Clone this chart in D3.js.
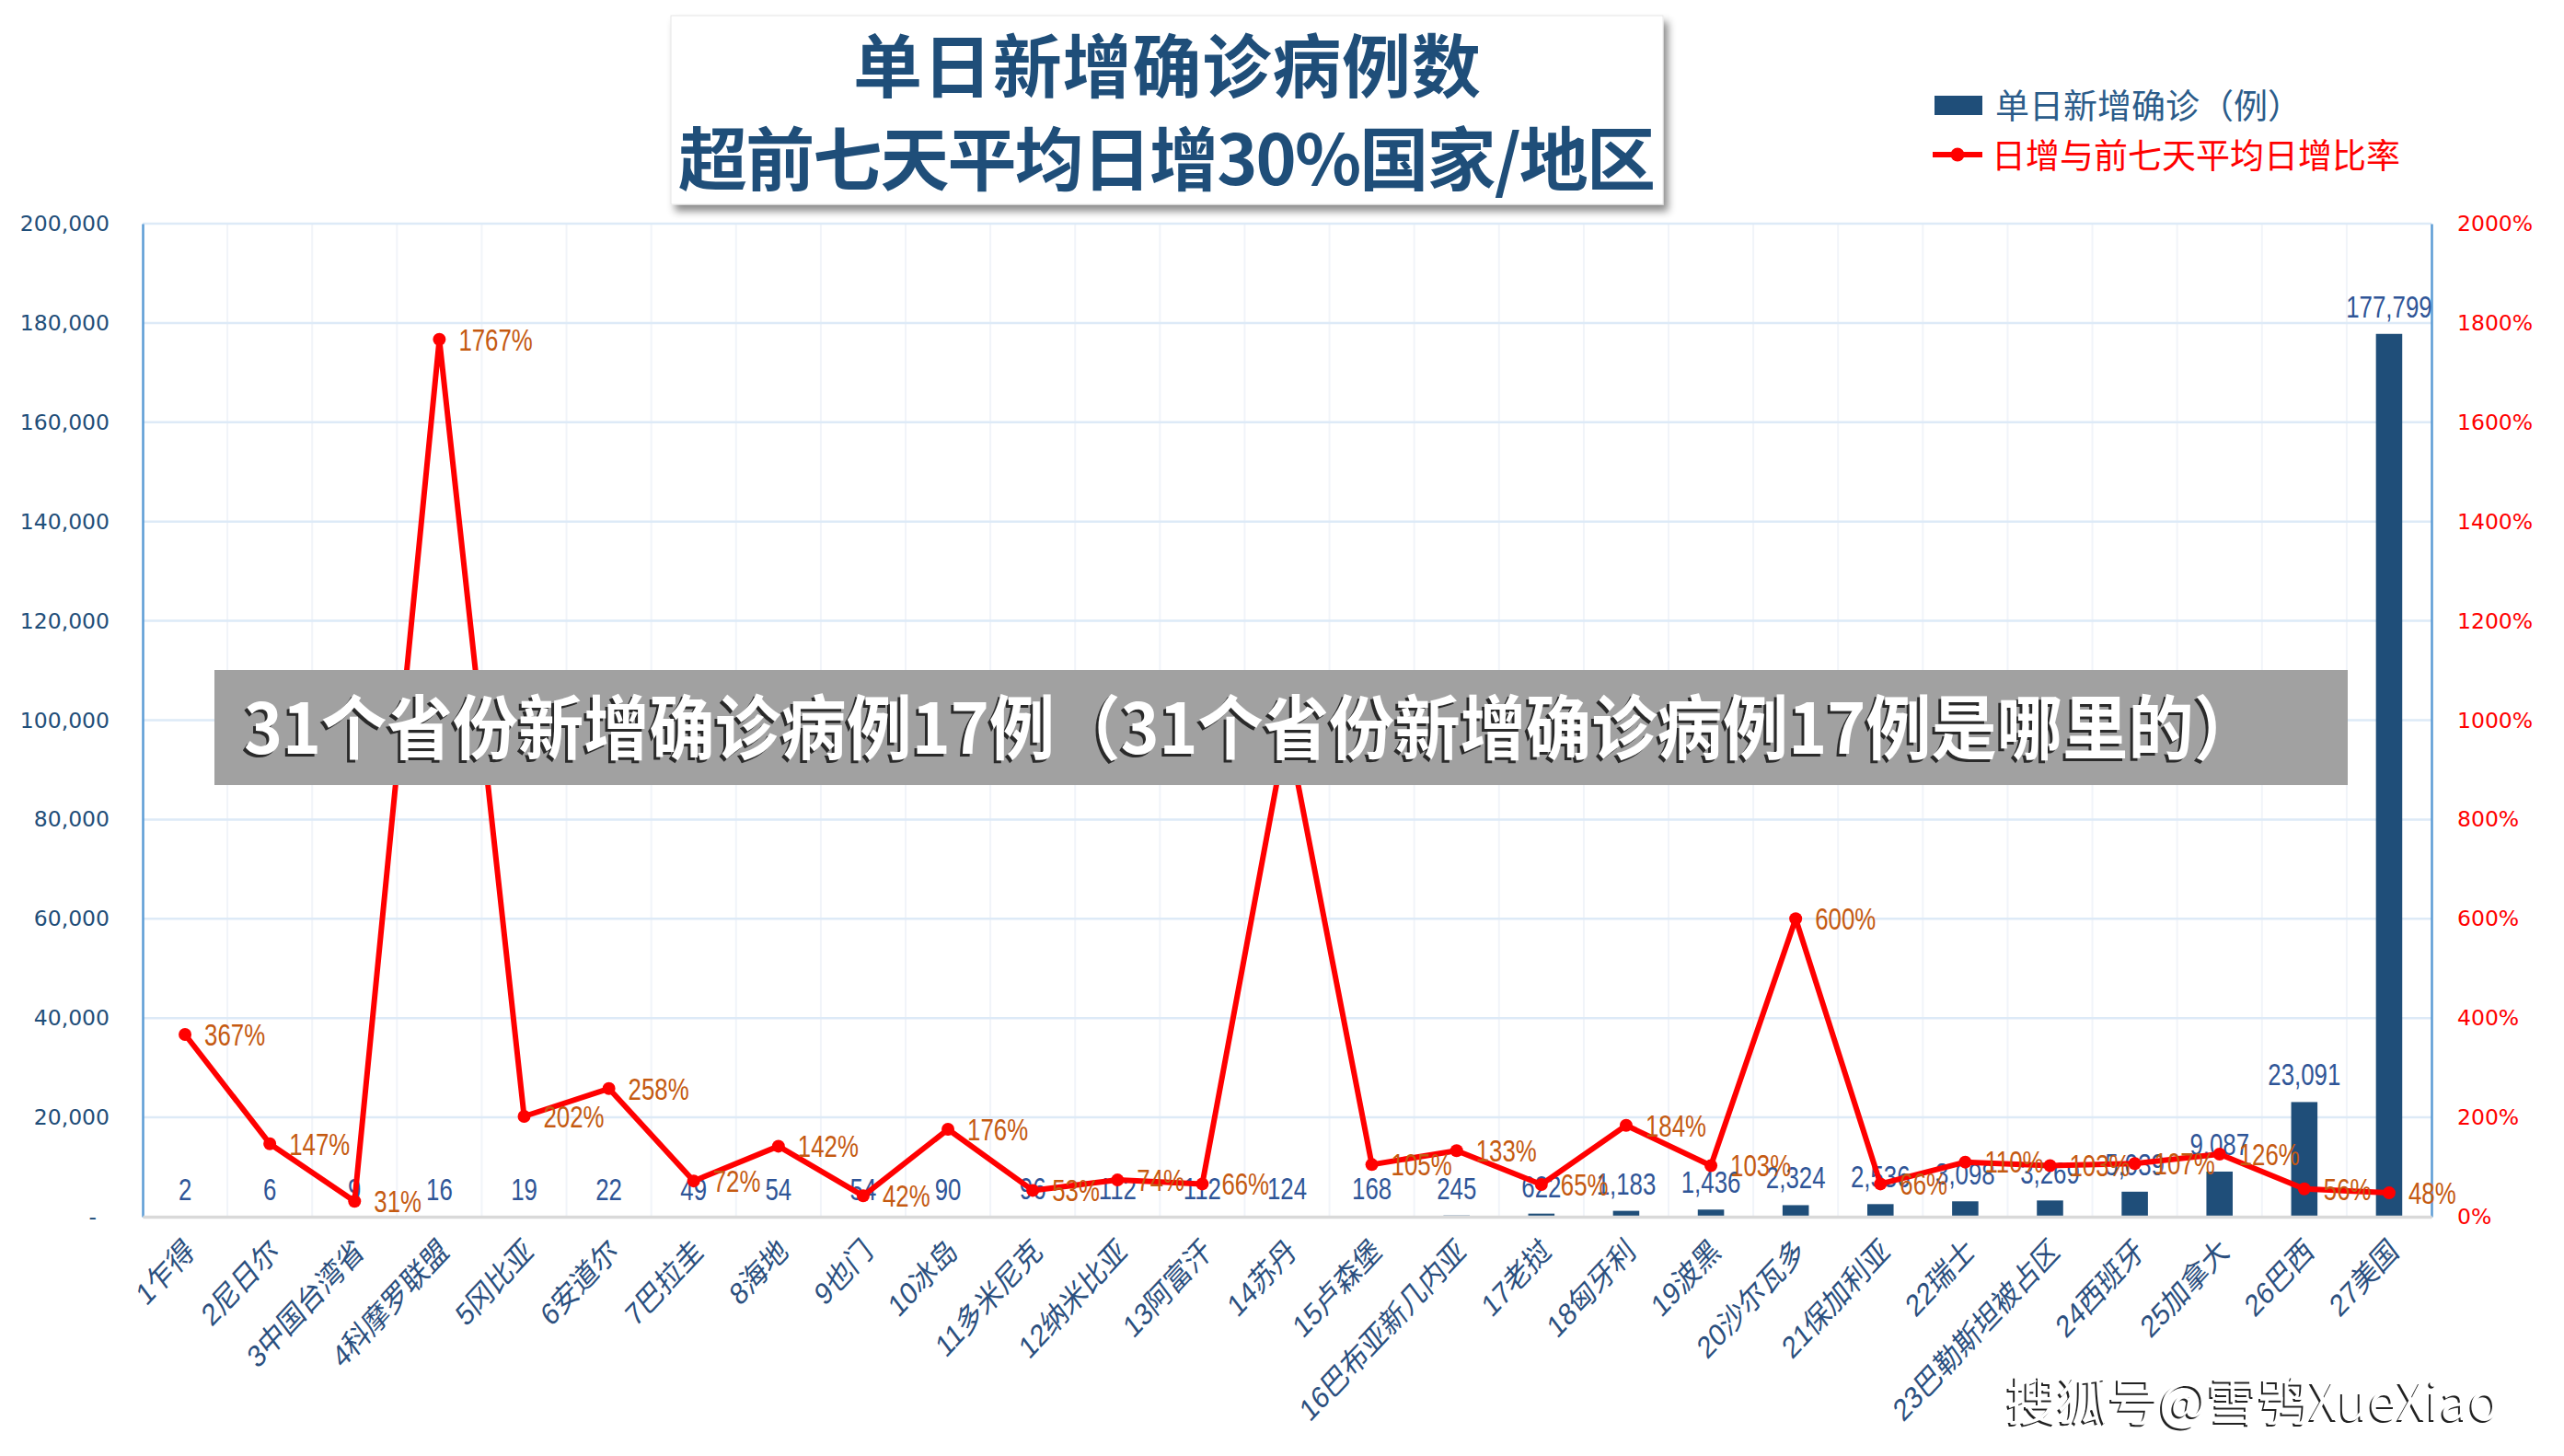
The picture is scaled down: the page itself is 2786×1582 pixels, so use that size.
<!DOCTYPE html>
<html><head><meta charset="utf-8">
<script src="https://cdn.jsdelivr.net/npm/d3@7"></script>
<style>body{margin:0;background:#fff}svg{display:block}</style>
</head><body>
<svg id="c" width="2786" height="1582"></svg>
<script>
// ---- data ----
const categories = ["1乍得","2尼日尔","3中国台湾省","4科摩罗联盟","5冈比亚","6安道尔","7巴拉圭","8海地","9也门","10冰岛","11多米尼克","12纳米比亚","13阿富汗","14苏丹","15卢森堡","16巴布亚新几内亚","17老挝","18匈牙利","19波黑","20沙尔瓦多","21保加利亚","22瑞士","23巴勒斯坦被占区","24西班牙","25加拿大","26巴西","27美国"];
const cases = [2,6,9,16,19,22,49,54,54,90,96,112,112,124,168,245,622,1183,1436,2324,2536,3098,3269,5039,9087,23091,177799];
const ratios = [367,147,31,1767,202,258,72,142,42,176,53,74,66,985,105,133,65,184,103,600,66,110,103,107,126,56,48];
const leftTicks = [0,20000,40000,60000,80000,100000,120000,140000,160000,180000,200000];
const rightTicks = [0,200,400,600,800,1000,1200,1400,1600,1800,2000];
const titleLines = ["单日新增确诊病例数","超前七天平均日增30%国家/地区"];
const legendBar = "单日新增确诊（例）";
const legendLine = "日增与前七天平均日增比率";
const bannerText = "31个省份新增确诊病例17例（31个省份新增确诊病例17例是哪里的）";
const watermark = "搜狐号@雪鸮XueXiao";

// ---- layout ----
const L = 155, R = 2642, T = 243, B = 1322;
const svg = d3.select("#c");
const defs = svg.append("defs");
const f = defs.append("filter").attr("id","sh").attr("x","-5%").attr("y","-10%").attr("width","115%").attr("height","130%");
f.append("feDropShadow").attr("dx",5).attr("dy",7).attr("stdDeviation",4).attr("flood-color","#000").attr("flood-opacity",0.45);

const x = d3.scaleBand().domain(categories).range([L, R]).paddingInner(0.69).paddingOuter(0.345);
const step = x.step();
const cx = d => x(d) + x.bandwidth()/2;
const yL = d3.scaleLinear().domain([0,200000]).range([B,T]);
const yR = d3.scaleLinear().domain([0,2000]).range([B,T]);

// gridlines
const grid = svg.append("g");
grid.selectAll("line.v").data(d3.range(1, categories.length)).join("line")
  .attr("x1", i => L + i*step).attr("x2", i => L + i*step)
  .attr("y1", T).attr("y2", B).attr("stroke", "#F1F4F9").attr("stroke-width", 2);
grid.selectAll("line.h").data(leftTicks.filter(d => d > 0)).join("line")
  .attr("x1", L).attr("x2", R).attr("y1", d => yL(d)).attr("y2", d => yL(d))
  .attr("stroke", "#DDEAF7").attr("stroke-width", 2.5);

// bars
const data = categories.map((c,i) => ({c, v: cases[i], r: ratios[i]}));
svg.append("g").selectAll("rect").data(data).join("rect")
  .attr("x", d => x(d.c)).attr("width", x.bandwidth())
  .attr("y", d => yL(d.v)).attr("height", d => B - yL(d.v))
  .attr("fill", "#1F4E79");

// axes
const axL = svg.append("g").attr("transform", `translate(${L},0)`)
  .call(d3.axisLeft(yL).tickValues(leftTicks).tickSize(0).tickSizeOuter(0).tickPadding(36)
    .tickFormat(d => d === 0 ? "-" : d3.format(",")(d)));
axL.select(".domain").attr("stroke", "#5B9BD5").attr("stroke-width", 2.5);
axL.selectAll("text").attr("font-family", "DejaVu Sans").attr("font-size", 23.5).attr("fill", "#1F4E79");
axL.selectAll(".tick").filter(d => d === 0).select("text").attr("dx", -14);

const axR = svg.append("g").attr("transform", `translate(${R},0)`)
  .call(d3.axisRight(yR).tickValues(rightTicks).tickSize(0).tickSizeOuter(0).tickPadding(28)
    .tickFormat(d => d + "%"));
axR.select(".domain").attr("stroke", "#5B9BD5").attr("stroke-width", 2.5);
axR.selectAll("text").attr("font-family", "DejaVu Sans").attr("font-size", 23.5).attr("fill", "#FF0000");

const axB = svg.append("g").attr("transform", `translate(0,${B})`)
  .call(d3.axisBottom(x).tickSize(0).tickSizeOuter(0));
axB.select(".domain").attr("stroke", "#D9D9D9").attr("stroke-width", 3.5);
axB.selectAll("text")
  .attr("x", 0).attr("y", 0).attr("dy", null)
  .attr("text-anchor", "end")
  .attr("transform", "translate(12,40) rotate(-47) skewX(-10)")
  .attr("font-family", "'Liberation Sans','Noto Sans CJK SC',sans-serif")
  .attr("font-size", 31).attr("fill", "#2B4F7E");

// count labels
svg.append("g").selectAll("text").data(data).join("text")
  .attr("transform", d => `translate(${cx(d.c)},${yL(d.v) - 18}) scale(0.76,1)`)
  .attr("text-anchor", "middle")
  .attr("font-family", "Liberation Sans").attr("font-size", 34).attr("fill", "#2F5597")
  .text(d => d3.format(",")(d.v));

// line
svg.append("path").datum(data)
  .attr("d", d3.line().x(d => cx(d.c)).y(d => yR(d.r)))
  .attr("fill", "none").attr("stroke", "#FF0000").attr("stroke-width", 6)
  .attr("stroke-linejoin", "round");
svg.append("g").selectAll("circle").data(data).join("circle")
  .attr("cx", d => cx(d.c)).attr("cy", d => yR(d.r)).attr("r", 7).attr("fill", "#FF0000");

// percent labels
svg.append("g").selectAll("text").data(data).join("text")
  .attr("transform", d => `translate(${cx(d.c) + 21},${yR(d.r)}) scale(0.76,1)`)
  .attr("dominant-baseline", "central")
  .attr("font-family", "Liberation Sans").attr("font-size", 34).attr("fill", "#C55A11")
  .text(d => d.r + "%");

// title box
svg.append("rect").attr("x", 729).attr("y", 17).attr("width", 1078).attr("height", 205)
  .attr("fill", "#fff").attr("stroke", "#E6E6E6").attr("filter", "url(#sh)");
svg.append("g").selectAll("text").data(titleLines).join("text")
  .attr("x", 1268).attr("y", (d,i) => i === 0 ? 67 : 168)
  .attr("text-anchor", "middle").attr("dominant-baseline", "central")
  .attr("font-family", "'Noto Sans CJK SC'").attr("font-weight", 700)
  .attr("font-size", 75).attr("fill", "#1F4E79")
  .attr("textLength", (d,i) => i === 0 ? 682 : 1062)
  .text(d => d);

// legend
svg.append("rect").attr("x", 2102).attr("y", 104).attr("width", 52).attr("height", 21).attr("fill", "#1F4E79");
svg.append("text").attr("x", 2168).attr("y", 113).attr("dominant-baseline", "central")
  .attr("font-family", "'Noto Sans CJK SC'").attr("font-size", 37).attr("fill", "#2B5C8A").text(legendBar);
svg.append("line").attr("x1", 2100).attr("x2", 2154).attr("y1", 168).attr("y2", 168)
  .attr("stroke", "#FF0000").attr("stroke-width", 6);
svg.append("circle").attr("cx", 2127).attr("cy", 168).attr("r", 7.5).attr("fill", "#FF0000");
svg.append("text").attr("x", 2164).attr("y", 167).attr("dominant-baseline", "central")
  .attr("font-family", "'Noto Sans CJK SC'").attr("font-size", 37).attr("fill", "#FF0000").text(legendLine);

// banner
svg.append("rect").attr("x", 233).attr("y", 728).attr("width", 2318).attr("height", 125).attr("fill", "#A1A1A1");
const bt = svg.append("g").attr("font-family", "'Noto Sans CJK SC'").attr("font-weight", 700).attr("font-size", 76);
[["#2a2a2a", -3, 3], ["#ffffff", 0, 0]].forEach(([c, dx, dy]) => {
  bt.append("text").attr("x", 1360 + dx).attr("y", 786 + dy)
    .attr("text-anchor", "middle").attr("dominant-baseline", "central")
    .attr("textLength", 2190).attr("lengthAdjust", "spacingAndGlyphs")
    .attr("fill", c).text(bannerText);
});

// watermark
const wm = svg.append("g").attr("font-family", "'Noto Sans CJK SC'").attr("font-size", 56);
[["#222", -2, 2], ["#ffffff", 0, 0]].forEach(([c, dx, dy]) => {
  wm.append("text").attr("x", 2180 + dx).attr("y", 1543 + dy)
    .attr("textLength", 536).attr("lengthAdjust", "spacingAndGlyphs")
    .attr("fill", c).text(watermark);
});
</script>
</body></html>
